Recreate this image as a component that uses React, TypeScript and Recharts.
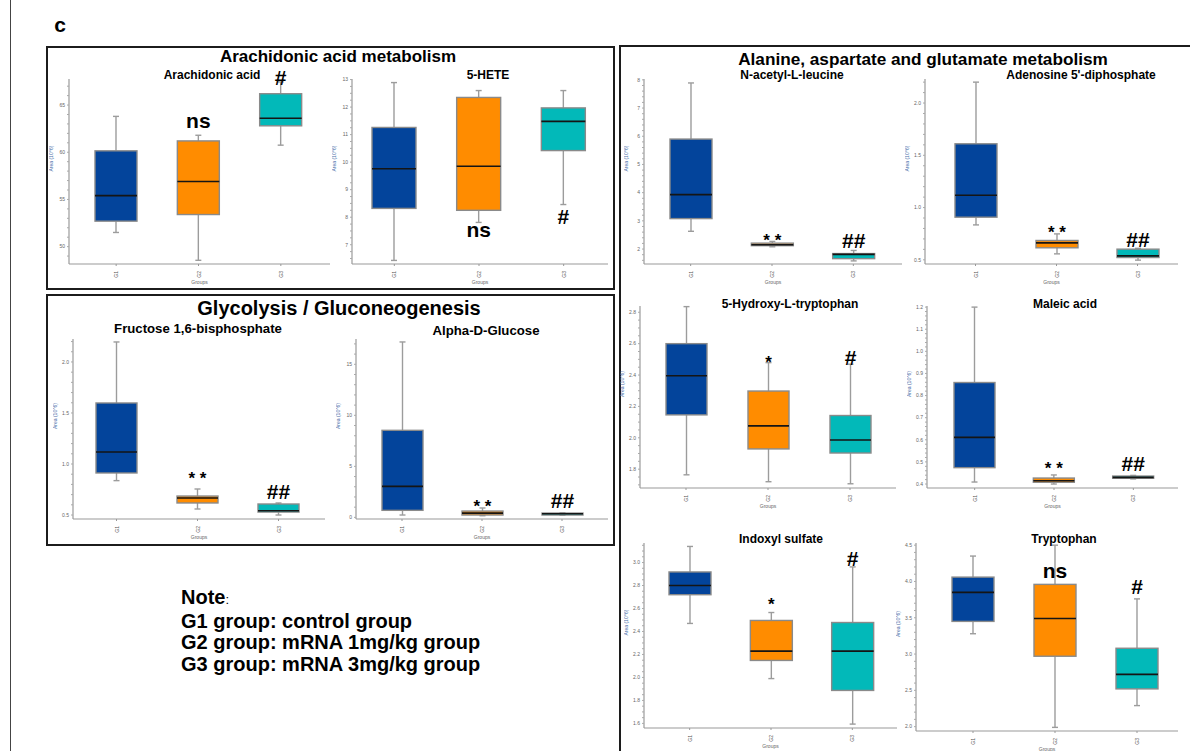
import React from 'react';
import { ComposedChart, Bar, XAxis, YAxis } from 'recharts';

const groups = ['G1', 'G2', 'G3'];
const boxColors = ['#03449b', '#ff8c00', '#02b9b9'];

// five-number summaries per group: [min, q1, median, q3, max]
const arachidonicAcid = [[51.5, 52.7, 55.4, 60.15, 63.8], [48.55, 53.4, 56.9, 61.2, 61.8], [60.75, 62.8, 63.6, 66.2, 67.45]];
const arachidonicSig = ['', 'ns', '#'];
const arachidonicSigAt = [0, 63.1, 67.95];
const arachidonicTicks = [50, 55, 60, 65];

const hete5 = [[6.43, 8.32, 9.76, 11.26, 12.89], [7.81, 8.25, 9.85, 12.35, 12.6], [8.46, 10.42, 11.48, 11.97, 12.6]];
const hete5Sig = ['', 'ns', '#'];
const hete5SigAt = [0, 7.47, 8.02];
const hete5Ticks = [7, 8, 9, 10, 11, 12, 13];

const fructoseBp = [[0.837, 0.912, 1.118, 1.598, 2.196], [0.559, 0.618, 0.667, 0.686, 0.755], [0.5, 0.529, 0.542, 0.608, 0.618]];
const fructoseSig = ['', '* *', '##'];
const fructoseSigAt = [0, 0.912, 0.732];
const fructoseTicks = [0.5, 1.0, 1.5, 2.0];

const alphaGlucose = [[0.23, 0.69, 3.04, 8.53, 17.19], [0.16, 0.23, 0.42, 0.62, 0.92], [0.2, 0.23, 0.36, 0.42, 0.46]];
const alphaGlucoseSig = ['', '* *', '##'];
const alphaGlucoseSigAt = [0, 1.57, 1.67];
const alphaGlucoseTicks = [0, 5, 10, 15];

const acetylLeucine = [[2.63, 3.08, 3.93, 5.9, 7.89], [2.08, 2.12, 2.15, 2.21, 2.27], [1.58, 1.66, 1.81, 1.84, 1.95]];
const acetylLeucineSig = ['', '* *', '##'];
const acetylLeucineSigAt = [0, 2.49, 2.32];
const acetylLeucineTicks = [2, 3, 4, 5, 6, 7, 8];

const adenosineDp = [[0.834, 0.908, 1.118, 1.61, 2.2], [0.557, 0.615, 0.662, 0.685, 0.748], [0.497, 0.522, 0.538, 0.602, 0.61]];
const adenosineDpSig = ['', '* *', '##'];
const adenosineDpSigAt = [0, 0.806, 0.694];
const adenosineDpTicks = [0.5, 1.0, 1.5, 2.0];

const hydroxyTrp = [[1.764, 2.146, 2.395, 2.6, 2.836], [1.72, 1.929, 2.076, 2.298, 2.479], [1.707, 1.903, 1.986, 2.142, 2.469]];
const hydroxyTrpSig = ['', '*', '#'];
const hydroxyTrpSigAt = [0, 2.515, 2.515];
const hydroxyTrpTicks = [1.8, 2.0, 2.2, 2.4, 2.6, 2.8];

const maleicAcid = [[0.409, 0.474, 0.611, 0.859, 1.2], [0.4, 0.408, 0.415, 0.427, 0.441], [0.423, 0.426, 0.43, 0.436, 0.439]];
const maleicSig = ['', '* *', '##'];
const maleicSigAt = [0, 0.494, 0.494];
const maleicTicks = [0.4, 0.5, 0.6, 0.7, 0.8, 0.9, 1.0, 1.1, 1.2];

const indoxylSulfate = [[2.47, 2.72, 2.8, 2.918, 3.14], [1.99, 2.148, 2.229, 2.496, 2.565], [1.594, 1.887, 2.229, 2.478, 2.962]];
const indoxylSig = ['', '*', '#'];
const indoxylSigAt = [0, 2.678, 3.035];
const indoxylTicks = [1.6, 1.8, 2.0, 2.2, 2.4, 2.6, 2.8, 3.0];

const tryptophan = [[3.28, 3.45, 3.85, 4.06, 4.35], [1.99, 2.97, 3.49, 3.96, 4.5], [2.29, 2.52, 2.72, 3.08, 3.76]];
const tryptophanSig = ['', 'ns', '#'];
const tryptophanSigAt = [0, 4.12, 3.93];
const tryptophanTicks = [2.0, 2.5, 3.0, 3.5, 4.0, 4.5];

const buildRows = (stats: number[][], sig: string[], sigAt: number[]) =>
  groups.map((g, i) => {
    const [min, q1, median, q3, max] = stats[i];
    return { group: g, range: [min, max], min, q1, median, q3, max, color: boxColors[i], sig: sig[i], sigAt: sigAt[i] };
  });

const minorTicks = (domain: number[], step: number) => {
  const out: number[] = [];
  for (let i = Math.ceil(domain[0] / step - 1e-9); i * step <= domain[1] + 1e-9; i++) {
    out.push(+(i * step).toFixed(4));
  }
  return out;
};

// plot = [left, top, right, bottom] of the plotting area on the page
const panels = [
  { name: 'Arachidonic acid', rows: buildRows(arachidonicAcid, arachidonicSig, arachidonicSigAt), ticks: arachidonicTicks, domain: [48.16, 67.76], minor: 1, dec: 0, plot: [69, 79, 330, 264], pad: [6, 8], box: 42, label: [212, 75], narrow: true },
  { name: '5-HETE', rows: buildRows(hete5, hete5Sig, hete5SigAt), ticks: hete5Ticks, domain: [6.3, 13.02], minor: 0.25, dec: 0, plot: [352, 79, 608, 264], pad: [0, 2], box: 44, label: [488, 75], narrow: true },
  { name: 'Fructose 1,6-bisphosphate', rows: buildRows(fructoseBp, fructoseSig, fructoseSigAt), ticks: fructoseTicks, domain: [0.461, 2.225], minor: 0.1, dec: 1, plot: [73, 339, 325, 519], pad: [3, 6], box: 41, label: [198, 329], narrow: false },
  { name: 'Alpha-D-Glucose', rows: buildRows(alphaGlucose, alphaGlucoseSig, alphaGlucoseSigAt), ticks: alphaGlucoseTicks, domain: [-0.16, 17.48], minor: 1, dec: 0, plot: [356, 339, 608, 519], pad: [6, 6], box: 41, label: [486, 331], narrow: false },
  { name: 'N-acetyl-L-leucine', rows: buildRows(acetylLeucine, acetylLeucineSig, acetylLeucineSigAt), ticks: acetylLeucineTicks, domain: [1.47, 8.03], minor: 0.2, dec: 0, plot: [644, 79, 902, 264], pad: [6, 8], box: 42, label: [792, 75], narrow: true },
  { name: "Adenosine 5'-diphosphate", rows: buildRows(adenosineDp, adenosineDpSig, adenosineDpSigAt), ticks: adenosineDpTicks, domain: [0.46, 2.23], minor: 0.1, dec: 1, plot: [925, 79, 1178, 264], pad: [10, 0], box: 42, label: [1081, 75], narrow: true },
  { name: '5-Hydroxy-L-tryptophan', rows: buildRows(hydroxyTrp, hydroxyTrpSig, hydroxyTrpSigAt), ticks: hydroxyTrpTicks, domain: [1.68, 2.84], minor: 0.05, dec: 1, plot: [640, 306, 896, 488], pad: [5, 5], box: 41, label: [790, 304], narrow: true },
  { name: 'Maleic acid', rows: buildRows(maleicAcid, maleicSig, maleicSigAt), ticks: maleicTicks, domain: [0.382, 1.205], minor: 0.02, dec: 1, plot: [927, 306, 1178, 488], pad: [8, 5], box: 41, label: [1065, 304], narrow: true },
  { name: 'Indoxyl sulfate', rows: buildRows(indoxylSulfate, indoxylSig, indoxylSigAt), ticks: indoxylTicks, domain: [1.56, 3.17], minor: 0.05, dec: 1, plot: [644, 543, 897, 728], pad: [5, 4], box: 42, label: [781, 539], narrow: true },
  { name: 'Tryptophan', rows: buildRows(tryptophan, tryptophanSig, tryptophanSigAt), ticks: tryptophanTicks, domain: [1.94, 4.53], minor: 0.1, dec: 1, plot: [916, 543, 1178, 731], pad: [16, 0], box: 42, label: [1064, 539], narrow: true },
];

const YW = 20; // y axis width
const XH = 22; // x axis height
const MT = 22; // room above the plot for marks
const MR = 3;

function BoxShape(props: any) {
  const { x, y, width, height, payload } = props;
  const { min, q1, median, q3, max, color, sig, sigAt } = payload;
  const k = max - min > 0 ? height / (max - min) : 0;
  const py = (v: number) => y + (max - v) * k;
  const cx = x + width / 2;
  const cap = 3;
  const whisker = { stroke: '#9c9c9c', strokeWidth: 1.4 };
  const star = sig && sig.includes('*');
  const hash = sig && sig.includes('#');
  return (
    <g>
      <line x1={cx} x2={cx} y1={py(max)} y2={py(q3)} {...whisker} />
      <line x1={cx} x2={cx} y1={py(q1)} y2={py(min)} {...whisker} />
      <line x1={cx - cap} x2={cx + cap} y1={py(max)} y2={py(max)} {...whisker} />
      <line x1={cx - cap} x2={cx + cap} y1={py(min)} y2={py(min)} {...whisker} />
      <rect x={x} y={py(q3)} width={width} height={Math.max(py(q1) - py(q3), 1.5)} fill={color} stroke="#8a8a8a" strokeWidth={1.4} />
      <line x1={x} x2={x + width} y1={py(median)} y2={py(median)} stroke="#151515" strokeWidth={1.6} />
      {sig ? (
        <text
          x={cx}
          y={py(sigAt)}
          dy={star ? '0.62em' : hash ? '0.36em' : '0.26em'}
          textAnchor="middle"
          fontFamily="'Liberation Sans', Arial, sans-serif"
          fontWeight="bold"
          fontSize={star ? 17 : hash ? 21 : 21}
          fill="#000"
        >
          {sig}
        </text>
      ) : null}
    </g>
  );
}

function GroupTick(props: any) {
  const { x, y, payload } = props;
  const ty = y + 3;
  return (
    <text x={x} y={ty} transform={`rotate(-90 ${x} ${ty})`} textAnchor="end" dominantBaseline="central" fontSize={5} fill="#555">
      {payload.value}
    </text>
  );
}

function BoxPanel({ p }: { p: (typeof panels)[number] }) {
  const [l, t, r, b] = p.plot;
  const width = r - l + YW + MR;
  const height = b - t + MT + XH;
  const isMajor = (v: number) => p.ticks.some((m) => Math.abs(m - v) < 1e-6);
  return (
    <div style={{ position: 'absolute', left: l - YW, top: t - MT }}>
      <ComposedChart width={width} height={height} data={p.rows} margin={{ top: MT, right: MR, bottom: 0, left: 0 }}>
        <XAxis
          dataKey="group"
          height={XH}
          interval={0}
          padding={{ left: p.pad[0], right: p.pad[1] }}
          tick={<GroupTick />}
          tickSize={2}
          tickLine={{ stroke: '#999' }}
          axisLine={{ stroke: '#9a9a9a', strokeWidth: 1.2 }}
          label={{ value: 'Groups', position: 'insideBottom', offset: 2, fontSize: 5, fill: '#666' }}
        />
        <YAxis
          type="number"
          domain={p.domain}
          ticks={minorTicks(p.domain, p.minor)}
          interval={0}
          width={YW}
          tickSize={2}
          tickMargin={2}
          tick={{ fontSize: 5, fill: '#666' }}
          tickLine={{ stroke: '#aaa' }}
          axisLine={{ stroke: '#9a9a9a', strokeWidth: 1.2 }}
          tickFormatter={(v: number) => (isMajor(v) ? v.toFixed(p.dec) : '')}
          label={{ value: 'Area (10^6)', angle: -90, position: 'insideLeft', offset: 2, fontSize: 5, fill: '#4a6ea8' }}
        />
        <Bar dataKey="range" barSize={p.box} shape={(s: any) => <BoxShape {...s} />} isAnimationActive={false} />
      </ComposedChart>
    </div>
  );
}

const centered = (x: number, y: number): React.CSSProperties => ({
  position: 'absolute',
  left: x,
  top: y,
  transform: 'translate(-50%, -50%)',
  whiteSpace: 'nowrap',
  fontWeight: 'bold',
  color: '#000',
  lineHeight: 1,
});

export default function App() {
  return (
    <div
      style={{
        position: 'absolute',
        left: 0,
        top: 0,
        width: 1190,
        height: 751,
        overflow: 'hidden',
        background: '#fff',
        fontFamily: "'Liberation Sans', Arial, sans-serif",
      }}
    >
      <div style={{ position: 'absolute', left: 10, top: 0, width: 1, height: 751, background: '#444' }} />
      <div style={{ ...centered(60, 24), fontSize: 21 }}>c</div>

      <div style={{ position: 'absolute', left: 46, top: 46, width: 569, height: 244, border: '2px solid #1c1c1c', boxSizing: 'border-box' }} />
      <div style={{ position: 'absolute', left: 46, top: 294, width: 569, height: 252, border: '2px solid #1c1c1c', boxSizing: 'border-box' }} />
      <div style={{ position: 'absolute', left: 619, top: 45, width: 620, height: 720, borderLeft: '2px solid #1c1c1c', borderTop: '2px solid #1c1c1c', boxSizing: 'border-box' }} />

      {panels.map((p) => (
        <BoxPanel key={p.name} p={p} />
      ))}

      <div style={{ ...centered(338, 56), fontSize: 17 }}>Arachidonic acid metabolism</div>
      <div style={{ ...centered(339, 308), fontSize: 20 }}>Glycolysis / Gluconeogenesis</div>
      <div style={{ ...centered(923, 60), fontSize: 17.2 }}>Alanine, aspartate and glutamate metabolism</div>

      {panels.map((p) => (
        <div
          key={p.name + '-t'}
          style={{
            ...centered(p.label[0], p.label[1]),
            fontSize: p.narrow ? 12 : 13.2,
            fontFamily: p.narrow ? "'Liberation Sans Narrow', 'Liberation Sans', Arial, sans-serif" : undefined,
            fontStretch: p.narrow ? 'condensed' : undefined,
          }}
        >
          {p.name}
        </div>
      ))}

      <div style={{ position: 'absolute', left: 181, top: 587, fontWeight: 'bold', fontSize: 20, lineHeight: '21.5px', color: '#000' }}>
        <div>
          Note<span style={{ fontWeight: 'normal', fontSize: 13 }}>:</span>
        </div>
        <div>G1 group: control group</div>
        <div>G2 group: mRNA 1mg/kg group</div>
        <div>G3 group: mRNA 3mg/kg group</div>
      </div>
    </div>
  );
}
